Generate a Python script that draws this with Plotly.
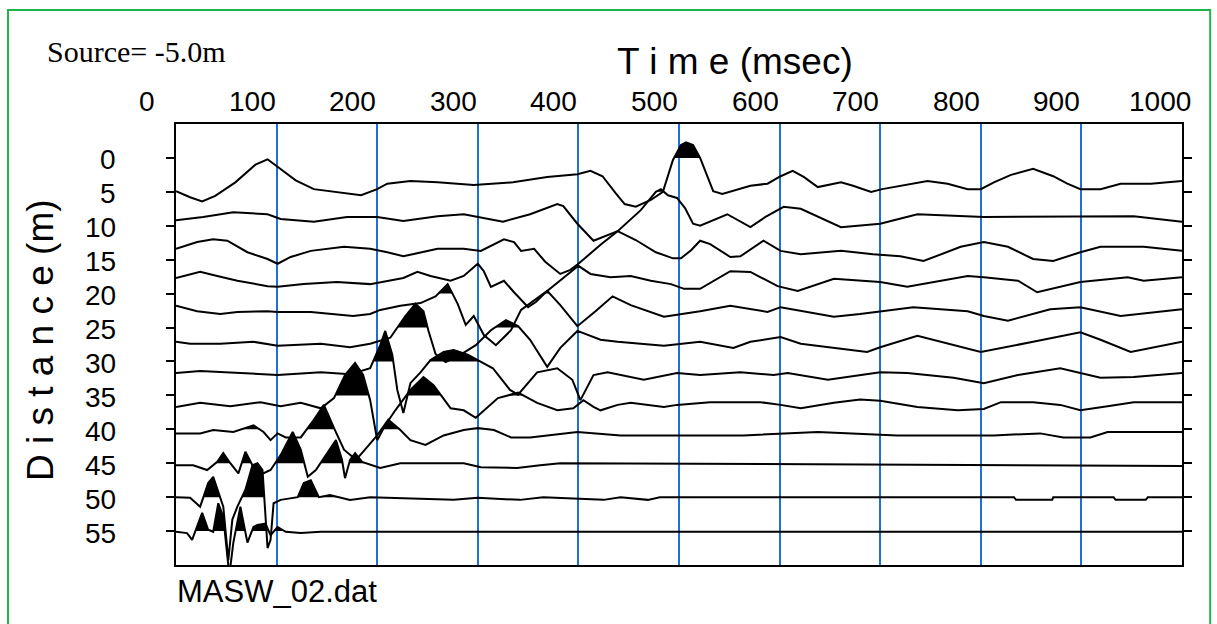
import numpy as np
import plotly.graph_objects as go

# ---------------- data (time in ms, trace level on the distance axis in m) ----------------
DIST = [0, 5, 10, 15, 20, 25, 30, 35, 40, 45, 50, 55]
TIME_TICKS = [0, 100, 200, 300, 400, 500, 600, 700, 800, 900, 1000]

TRACE_00 = [(0,4.9),(14,5.8),(26,6.4),(39,5.6),(59,3.6),(79,1.0),(91,0.2),(101,1.3),(119,3.3),(137,4.6),
            (160,5.0),(184,5.5),(200,4.6),(210,3.8),(233,3.4),(260,3.6),(296,4.0),(335,3.6),(369,2.8),(399,2.4),
            (412,1.9),(424,2.7),(437,5.2),(446,6.8),(457,7.2),(472,6.2),(484,5.0),(494,0.3),(502,-1.9),(507,-2.3),
            (514,-1.9),(521,0.0),(529,3.0),(534,4.9),(543,5.3),(571,4.1),(588,3.8),(601,2.7),(613,1.9),(624,2.8),
            (638,4.3),(661,3.6),(673,4.1),(691,5.0),(702,4.6),(720,4.1),(747,3.4),(767,3.8),(787,4.6),(800,4.6),
            (813,3.6),(830,2.5),(852,1.6),(872,2.7),(886,3.8),(899,4.6),(919,4.6),(939,3.8),(969,3.8),(1000,3.4)]
TRACE_05 = [(0,9.2),(27,8.7),(57,8.0),(91,8.3),(104,9.0),(137,9.4),(170,8.7),(200,8.7),(226,9.3),(260,8.6),
            (286,8.3),(325,9.4),(352,8.3),(379,6.8),(385,7.1),(399,9.7),(415,12.2),(427,11.5),(439,10.8),(462,7.7),
            (477,5.0),(482,4.6),(489,5.5),(498,5.9),(506,7.4),(514,9.7),(521,10.0),(548,8.3),(571,10.2),(586,8.7),
            (604,7.2),(621,7.5),(641,8.9),(661,10.2),(700,9.7),(737,8.3),(803,8.7),(852,8.7),(899,8.7),(952,8.6),(1000,9.4)]
TRACE_10 = [(0,13.4),(21,12.4),(37,12.0),(51,12.2),(71,13.9),(91,14.9),(101,15.6),(114,14.6),(134,13.7),(167,13.1),
            (193,13.4),(210,13.9),(226,14.5),(260,13.4),(286,13.4),(303,13.7),(326,12.0),(336,12.4),(343,13.7),(356,13.4),
            (367,15.3),(382,17.1),(392,16.5),(400,15.6),(422,12.8),(439,10.8),(457,12.1),(477,13.9),(494,14.8),(502,14.8),
            (512,13.6),(521,12.2),(531,12.7),(551,14.6),(561,14.5),(584,12.2),(601,13.7),(621,14.2),(661,13.7),(693,14.2),
            (720,14.5),(743,15.2),(780,13.1),(803,12.4),(827,13.1),(852,14.9),(872,15.2),(899,13.9),(919,13.1),(962,13.1),(1000,13.7)]
TRACE_15 = [(0,17.7),(24,16.8),(41,17.4),(61,18.1),(91,18.9),(101,19.0),(127,18.6),(160,18.3),(193,18.6),(226,17.7),
            (240,16.8),(253,17.4),(273,18.1),(286,17.4),(300,15.6),(306,16.7),(313,19.0),(326,18.1),(336,19.8),(350,22.0),
            (358,21.2),(369,19.6),(400,15.9),(412,17.1),(432,17.6),(452,17.4),(472,18.1),(492,18.6),(505,19.3),(521,19.3),
            (551,16.7),(571,16.8),(598,18.9),(618,19.6),(654,17.8),(700,18.3),(727,19.0),(787,17.4),(803,17.6),(837,18.1),
            (856,19.8),(899,18.3),(946,17.6),(962,18.1),(1000,17.6)]
TRACE_20 = [(0,21.8),(21,22.6),(44,23.0),(61,22.7),(91,22.6),(101,22.7),(134,22.7),(154,23.0),(176,23.3),(193,23.0),
            (203,22.4),(223,21.8),(243,21.4),(258,20.4),(270,18.6),(280,21.5),(288,24.6),(296,23.3),(306,26.1),(318,27.6),
            (333,25.4),(343,22.4),(357,20.9),(369,19.6),(382,21.7),(399,24.8),(417,22.6),(434,20.4),(452,21.7),(485,23.4),
            (521,22.6),(551,21.8),(588,22.7),(601,22.0),(654,23.4),(680,23.0),(733,22.0),(787,22.6),(803,23.3),(827,24.0),
            (869,22.3),(899,22.0),(939,23.3),(1000,22.3)]
TRACE_25 = [(0,27.1),(14,27.4),(44,27.4),(77,27.1),(101,27.7),(144,27.4),(173,27.9),(193,27.4),(213,26.5),(228,23.3),
            (238,21.5),(246,22.6),(251,25.5),(258,28.9),(268,30.1),(283,29.0),(298,27.6),(313,25.4),(328,23.9),(340,24.8),
            (352,26.8),(369,30.8),(382,28.0),(399,25.5),(422,26.8),(439,27.1),(485,27.7),(521,27.1),(554,28.0),(571,27.1),
            (601,26.4),(621,27.4),(687,28.6),(700,27.9),(737,26.2),(770,27.4),(800,28.6),(852,27.1),(899,25.7),(919,26.8),
            (949,28.6),(1000,27.1)]
TRACE_30 = [(0,31.7),(24,31.4),(64,31.7),(101,32.0),(144,31.6),(173,31.9),(193,31.0),(203,27.6),(208,25.5),(215,29.0),
            (220,34.2),(226,37.6),(233,33.2),(243,31.6),(253,29.8),(266,28.6),(276,28.3),(290,29.0),(300,29.8),(315,31.0),(332,34.2),
            (340,34.9),(359,31.6),(379,31.0),(394,32.7),(402,35.7),(415,32.0),(429,31.6),(465,32.7),(498,31.7),(521,32.0),
            (561,31.6),(594,32.0),(608,31.7),(648,32.7),(700,31.6),(727,31.7),(773,32.4),(803,33.2),(837,32.0),(879,31.0),
            (899,31.7),(919,32.4),(952,32.3),(1000,31.7)]
TRACE_35 = [(0,36.7),(24,36.1),(54,36.6),(84,36.0),(104,36.6),(124,36.1),(144,36.9),(157,35.4),(168,32.0),(178,30.2),
            (186,32.0),(193,35.7),(200,41.6),(208,39.4),(218,37.2),(233,34.2),(246,32.3),(256,33.5),(265,35.3),(273,36.9),
            (286,37.2),(298,38.3),(320,35.4),(340,34.6),(359,36.1),(379,37.2),(395,36.9),(405,35.7),(415,36.7),(422,37.2),
            (439,36.4),(452,36.1),(485,36.7),(498,36.4),(531,36.0),(581,36.0),(601,36.4),(621,36.9),(654,36.1),(680,35.6),
            (700,35.8),(737,36.7),(777,37.2),(803,37.0),(820,36.0),(852,36.0),(879,36.4),(899,37.2),(926,36.6),(952,36.0),(1000,36.0)]
TRACE_40 = [(0,40.6),(24,40.6),(37,40.1),(57,40.4),(77,39.4),(87,40.4),(94,41.6),(101,40.6),(109,41.2),(124,41.2),
            (137,38.6),(147,36.4),(157,39.8),(167,43.0),(179,44.5),(188,43.0),(200,40.9),(211,38.6),(223,40.1),(233,41.6),
            (248,42.3),(266,40.9),(286,40.1),(300,39.8),(316,40.1),(333,41.2),(352,41.2),(399,40.4),(419,40.6),(442,40.9),
            (531,40.9),(564,40.9),(638,40.4),(717,40.9),(813,40.9),(859,40.6),(882,41.2),(909,41.2),(926,40.4),(1000,40.4)]
TRACE_45 = [(0,45.3),(17,45.3),(31,46.0),(41,44.8),(47,43.5),(54,45.0),(62,46.5),(69,43.3),(76,45.3),(84,46.7),
            (94,46.0),(104,43.8),(116,40.4),(124,43.0),(131,47.0),(139,46.0),(149,43.8),(159,41.6),(165,44.5),(168,47.2),
            (173,44.5),(178,43.5),(185,44.8),(203,45.7),(223,45.0),(253,45.0),(286,45.0),(303,45.6),(339,45.7),(362,45.3),
            (382,45.0),(1000,45.4)]
TRACE_50 = [(0,50.0),(14,50.1),(24,51.4),(32,47.9),(37,47.0),(44,50.0),(47,51.4),(52,59.3),(56,53.3),(61,51.4),
            (69,48.9),(76,45.3),(81,45.0),(86,46.0),(91,57.5),(94,56.3),(97,50.9),(104,50.4),(121,50.0),(127,47.9),
            (134,47.5),(142,50.0),(153,49.7),(173,50.4),(193,50.0),(276,50.4),(300,50.1),(342,50.4),(365,50.0),(425,50.4),
            (442,50.0),(469,50.4),(481,50.0),(833,50.0),(835,50.4),(871,50.4),(872,50.0),(932,50.0),(934,50.4),(964,50.4),
            (966,50.0),(1000,50.0)]
TRACE_55 = [(0,55.1),(11,55.3),(16,56.3),(21,54.4),(26,52.3),(32,54.8),(37,55.1),(42,50.9),(47,52.9),(53,61.5),
            (57,56.7),(64,51.4),(71,56.7),(77,54.4),(81,54.1),(89,53.9),(94,55.6),(101,54.4),(109,55.1),(124,55.3),
            (144,55.1),(1000,55.1)]

TRACES = [TRACE_00, TRACE_05, TRACE_10, TRACE_15, TRACE_20, TRACE_25,
          TRACE_30, TRACE_35, TRACE_40, TRACE_45, TRACE_50, TRACE_55]

TITLE_X = "T i m e (msec)"
TITLE_Y = "D i s t a n c e (m)"
SOURCE_TEXT = "Source= -5.0m"
FILE_TEXT = "MASW_02.dat"

# ---------------- figure ----------------
fig = go.Figure()


def positive_fill(pts, base):
    """Variable-area fill: the part of a trace lying above (toward smaller distance) its baseline."""
    t = np.array([p[0] for p in pts], float)
    y = np.array([p[1] for p in pts], float)
    xs, ys = [t[0]], [min(y[0], base)]
    for i in range(len(t) - 1):
        a, b = y[i] - base, y[i + 1] - base
        if a * b < 0:
            tc = t[i] + (t[i + 1] - t[i]) * a / (a - b)
            xs.append(tc)
            ys.append(base)
        xs.append(t[i + 1])
        ys.append(min(y[i + 1], base))
    xs += [t[-1], t[0]]
    ys += [base, base]
    return xs, ys


for pts, d in zip(TRACES, DIST):
    fx, fy = positive_fill(pts, d)
    fig.add_trace(go.Scatter(x=fx, y=fy, mode="lines", fill="toself", fillcolor="black",
                             line=dict(width=0, color="black"), hoverinfo="skip", showlegend=False))

for pts, d in zip(TRACES, DIST):
    fig.add_trace(go.Scatter(x=[p[0] for p in pts], y=[p[1] for p in pts], mode="lines",
                             line=dict(color="black", width=2), hoverinfo="skip", showlegend=False))

annotations = []
label_font = dict(family="Liberation Sans, Arial, sans-serif", size=28, color="black")
for v in TIME_TICKS:
    shift = 1
    if v == 0:
        shift = -19
    elif v == 1000:
        shift = 11
    annotations.append(dict(x=v, xref="x", y=1.052, yref="paper", text=str(v), showarrow=False,
                            xanchor="right", yanchor="middle", xshift=shift, font=label_font))
for v in DIST:
    annotations.append(dict(x=-0.0577, xref="paper", y=v, yref="y", text=str(v), showarrow=False,
                            xanchor="right", yanchor="middle", yshift=-2, font=label_font))

annotations += [
    dict(x=0.5557, xref="paper", y=1.1406, yref="paper", text=TITLE_X, showarrow=False,
         xanchor="center", yanchor="middle",
         font=dict(family="Liberation Sans, Arial, sans-serif", size=37, color="black")),
    dict(x=-0.1352, xref="paper", y=0.51, yref="paper", text=TITLE_Y, showarrow=False, textangle=-90,
         xanchor="center", yanchor="middle",
         font=dict(family="Liberation Sans, Arial, sans-serif", size=37, color="black")),
    dict(x=-0.1302, xref="paper", y=1.1633, yref="paper", text=SOURCE_TEXT, showarrow=False,
         xanchor="left", yanchor="middle",
         font=dict(family="Liberation Serif, Times New Roman, serif", size=30, color="black")),
    dict(x=-0.001, xref="paper", y=-0.0612, yref="paper", text=FILE_TEXT, showarrow=False,
         xanchor="left", yanchor="middle",
         font=dict(family="Liberation Sans, Arial, sans-serif", size=31, color="black")),
]

fig.update_layout(
    width=1217, height=624,
    margin=dict(l=176, r=35, t=124, b=59, pad=0),
    paper_bgcolor="white", plot_bgcolor="white",
    showlegend=False,
    annotations=annotations,
    shapes=[dict(type="rect", xref="paper", yref="paper", x0=-0.167, x1=1.028, y0=-0.3, y1=1.2585,
                 line=dict(color="#22b44c", width=2), fillcolor="rgba(0,0,0,0)", layer="below")],
    xaxis=dict(range=[0, 1000], side="top", showgrid=True, gridcolor="#1f6fd8", gridwidth=2,
               tick0=0, dtick=100, showticklabels=False, ticks="", zeroline=False,
               showline=True, linecolor="black", linewidth=2, mirror=True, fixedrange=True),
    yaxis=dict(range=[60, -5], tickvals=DIST, ticks="outside", ticklen=8, tickwidth=2, tickcolor="black",
               showticklabels=False, showgrid=False, zeroline=False,
               showline=True, linecolor="black", linewidth=2, mirror="ticks", fixedrange=True),
)

fig.write_html("out.html")
